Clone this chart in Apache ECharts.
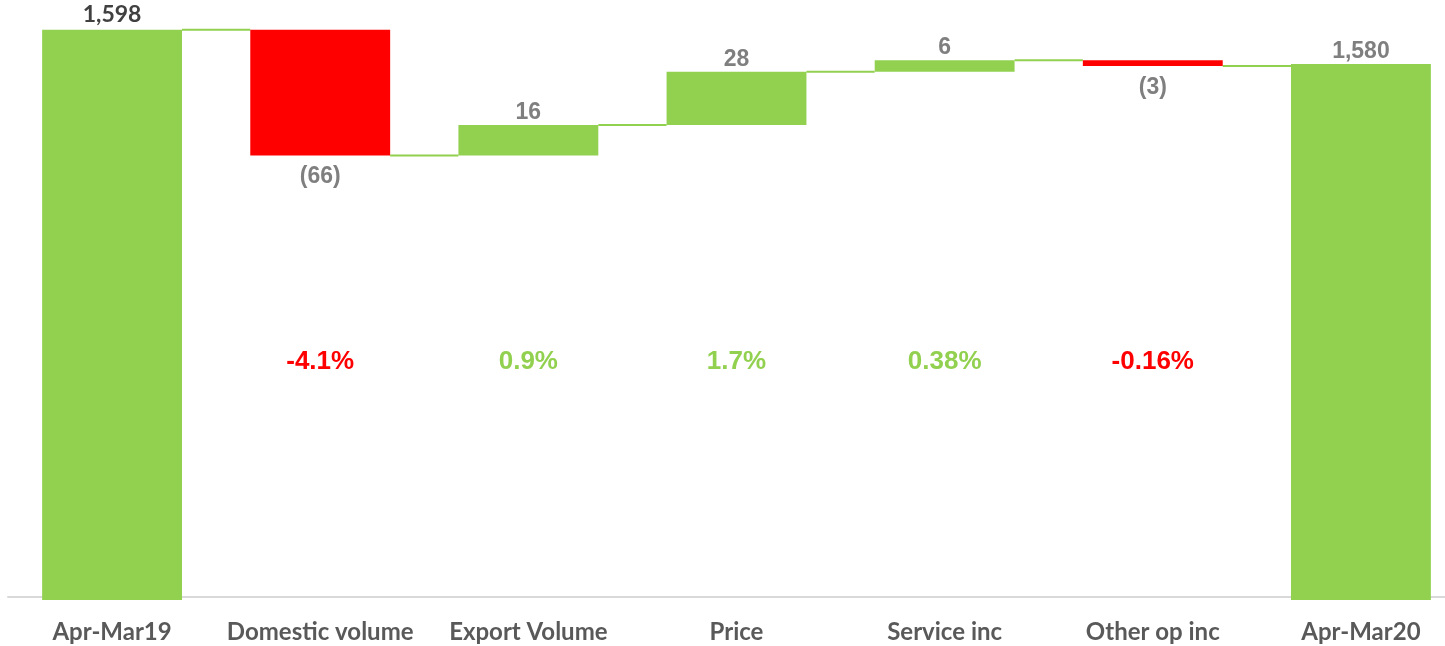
<!DOCTYPE html>
<html>
<head>
<meta charset="utf-8">
<script src="https://cdn.jsdelivr.net/npm/echarts@6/dist/echarts.min.js"></script>
<style>
html,body{margin:0;padding:0;background:#fff;}
#chart{width:1445px;height:646px;}
</style>
</head>
<body>
<div id="chart"></div>
<script>
// ---- data ----
const categories = ['Apr-Mar19', 'Domestic volume', 'Export Volume', 'Price', 'Service inc', 'Other op inc', 'Apr-Mar20'];
const values = [1598, -66, 16, 28, 6, -3, 1580];        // first & last are totals, others are changes
const isTotal = [true, false, false, false, false, false, true];
const valueLabels = ['1,598', '(66)', '16', '28', '6', '(3)', '1,580'];
const pctLabels = ['', '-4.1%', '0.9%', '1.7%', '0.38%', '-0.16%', ''];

// ---- derived waterfall geometry (in data units) ----
const GREEN = '#92D050', RED = '#FF0000';
const Y_MIN = 1300, Y_MAX = 1610, PCT_LEVEL = 1423.5;
const barData = [];
let running = 0;
for (let i = 0; i < values.length; i++) {
  let low, high, end;
  if (isTotal[i]) { low = 0; high = values[i]; end = values[i]; }
  else {
    const start = running; end = running + values[i];
    low = Math.min(start, end); high = Math.max(start, end);
  }
  running = end;
  barData.push([i, low, high, values[i], isTotal[i] ? 1 : 0, end]);
}
const connData = [];
for (let i = 0; i < barData.length - 1; i++) connData.push([i, barData[i][5]]);
const pctData = pctLabels.map((t, i) => [i, PCT_LEVEL]);

const BAR_RATIO = 0.672;
const labelFont = 'bold 23px "Liberation Sans", Arial, sans-serif';

const chart = echarts.init(document.getElementById('chart'));
chart.setOption({
  animation: false,
  grid: { left: 8, width: 1457, top: 7, bottom: 49, containLabel: false, outerBoundsMode: 'none' },
  xAxis: {
    type: 'category',
    data: categories,
    axisLine: { lineStyle: { color: '#D9D9D9', width: 2 } },
    axisTick: { show: false },
    axisLabel: { color: '#595959', fontFamily: 'Lato', fontWeight: 'bold', fontSize: 24, margin: 23, interval: 0 }
  },
  yAxis: { type: 'value', min: Y_MIN, max: Y_MAX, show: false, splitLine: { show: false } },
  series: [
    {
      type: 'custom',
      data: connData,
      z: 1,
      renderItem: function (params, api) {
        const i = api.value(0), lvl = api.value(1);
        const w = api.size([1, 0])[0] * BAR_RATIO;
        const a = api.coord([i, lvl]), b = api.coord([i + 1, lvl]);
        return {
          type: 'line',
          shape: { x1: a[0] + w / 2, y1: a[1], x2: b[0] - w / 2, y2: b[1] },
          style: { stroke: GREEN, lineWidth: 2 }
        };
      }
    },
    {
      type: 'custom',
      data: barData,
      z: 2,
      clip: false,
      renderItem: function (params, api) {
        const i = api.value(0), low = Math.max(api.value(1), Y_MIN), high = api.value(2);
        const delta = api.value(3), total = api.value(4) === 1;
        const w = api.size([1, 0])[0] * BAR_RATIO;
        const pt = api.coord([i, high]), pb = api.coord([i, low]);
        const bottom = total ? pb[1] + 3 : pb[1];
        const color = (!total && delta < 0) ? RED : GREEN;
        const children = [{
          type: 'rect',
          shape: { x: pt[0] - w / 2, y: pt[1], width: w, height: Math.max(bottom - pt[1], 3) },
          style: { fill: color }
        }];
        const idx = params.dataIndex;
        const below = !total && delta < 0;
        const first = idx === 0;
        children.push({
          type: 'text',
          x: pt[0],
          y: below ? pb[1] + 10 : (first ? pt[1] - 4 : pt[1] - 1),
          style: {
            text: valueLabels[idx],
            font: first ? 'bold 23px Lato, sans-serif' : labelFont,
            fill: first ? '#404040' : '#7F7F7F',
            align: 'center',
            verticalAlign: below ? 'top' : 'bottom'
          }
        });
        return { type: 'group', children: children };
      }
    },
    {
      type: 'custom',
      data: pctData,
      z: 3,
      renderItem: function (params, api) {
        const i = api.value(0);
        const p = api.coord([i, api.value(1)]);
        const t = pctLabels[params.dataIndex];
        return {
          type: 'text',
          x: p[0], y: p[1],
          style: {
            text: t,
            font: 'bold 26px "Liberation Sans", Arial, sans-serif',
            fill: t.charAt(0) === '-' ? RED : GREEN,
            align: 'center', verticalAlign: 'middle'
          }
        };
      }
    }
  ]
});
</script>
</body>
</html>
